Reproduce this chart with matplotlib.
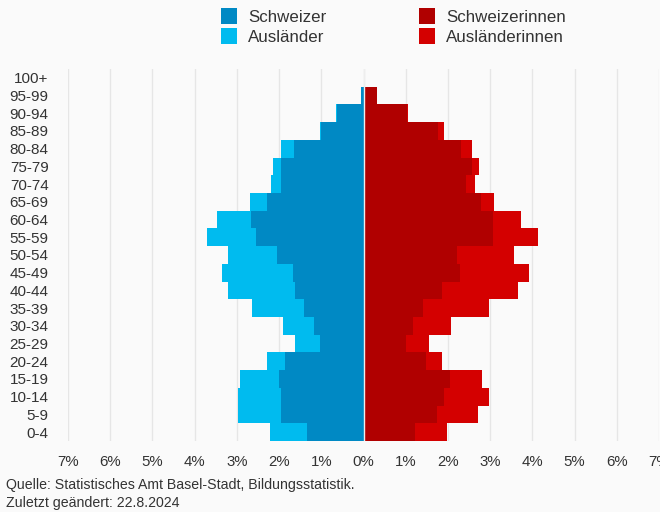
import matplotlib
matplotlib.use("Agg")
import matplotlib.pyplot as plt
from matplotlib.patches import Rectangle
from matplotlib.ticker import FixedLocator, FuncFormatter
import numpy as np

plt.rcParams['font.family'] = ['Liberation Sans', 'DejaVu Sans']

ages = ['0-4', '5-9', '10-14', '15-19', '20-24', '25-29', '30-34', '35-39', '40-44',
        '45-49', '50-54', '55-59', '60-64', '65-69', '70-74', '75-79', '80-84',
        '85-89', '90-94', '95-99', '100+']
schweizer = [1.34, 1.95, 1.95, 1.99, 1.86, 1.04, 1.18, 1.41, 1.62, 1.67, 2.05,
             2.55, 2.67, 2.29, 1.95, 1.95, 1.65, 1.00, 0.63, 0.06, 0.0]
auslaender = [0.87, 1.03, 1.03, 0.94, 0.43, 0.58, 0.73, 1.24, 1.60, 1.69, 1.17,
              1.15, 0.79, 0.40, 0.24, 0.20, 0.30, 0.04, 0.02, 0.01, 0.0]
schweizerinnen = [1.23, 1.74, 1.91, 2.04, 1.47, 1.01, 1.17, 1.41, 1.87, 2.28, 2.22,
                  3.06, 3.06, 2.78, 2.42, 2.56, 2.32, 1.77, 1.03, 0.32, 0.0]
auslaenderinnen = [0.75, 0.98, 1.07, 0.77, 0.40, 0.53, 0.90, 1.57, 1.78, 1.65, 1.35,
                   1.07, 0.67, 0.30, 0.22, 0.18, 0.26, 0.13, 0.02, 0.01, 0.0]
series_names = ['Schweizer', 'Ausländer', 'Schweizerinnen', 'Ausländerinnen']
x_ticks = [-7, -6, -5, -4, -3, -2, -1, 0, 1, 2, 3, 4, 5, 6, 7]

c_ch_m = '#0089C4'
c_au_m = '#00BBEF'
c_ch_f = '#B00000'
c_au_f = '#D40000'
txt = '#333333'
bg = '#FAFAFA'

W, H = 660, 512
fig = plt.figure(figsize=(W / 100, H / 100), dpi=100, facecolor=bg)
ax = fig.add_axes([68 / W, 1 - 441 / H, (659 - 68) / W, (441 - 69) / H], facecolor=bg)

y = np.arange(len(ages))
sm = np.array(schweizer)
am = np.array(auslaender)
sf = np.array(schweizerinnen)
af = np.array(auslaenderinnen)

ax.barh(y, -sm, height=1.0, color=c_ch_m, linewidth=0, zorder=2)
ax.barh(y, -am, left=-sm, height=1.0, color=c_au_m, linewidth=0, zorder=2)
ax.barh(y, sf, height=1.0, color=c_ch_f, linewidth=0, zorder=2)
ax.barh(y, af, left=sf, height=1.0, color=c_au_f, linewidth=0, zorder=2)
ax.axvline(0, color='#eeeeee', lw=1.0, zorder=3)

ax.set_xlim(-7, 7)
ax.set_ylim(-0.5, len(ages) - 0.5)
ax.xaxis.set_major_locator(FixedLocator(x_ticks))
ax.xaxis.set_major_formatter(FuncFormatter(lambda v, p: f"{abs(int(round(v)))}%"))
ax.set_yticks(y)
ax.set_yticklabels(ages)
ax.grid(axis='x', color='#e6e6e6', lw=1.0, zorder=0)
ax.axvline(-7, color='#ccd6eb', lw=1.2, zorder=1)
for s in ax.spines.values():
    s.set_visible(False)
ax.tick_params(axis='y', length=0, pad=14, labelsize=11, labelcolor=txt)
ax.tick_params(axis='x', length=0, pad=10, labelsize=10.8, labelcolor=txt)

# legend
colors = [c_ch_m, c_au_m, c_ch_f, c_au_f]
positions = [(221, 7.5), (221, 27.5), (419, 7.5), (419, 27.5)]
for name, col, (px, py) in zip(series_names, colors, positions):
    fig.patches.append(Rectangle((px / W, 1 - (py + 16.5) / H), 16 / W, 16.5 / H,
                                 transform=fig.transFigure, facecolor=col,
                                 edgecolor='none'))
    fig.text((px + 27) / W, 1 - (py + 10) / H, name, fontsize=12.2, color=txt,
             ha='left', va='center')

fig.text(6 / W, 1 - 485 / H, 'Quelle: Statistisches Amt Basel-Stadt, Bildungsstatistik.',
         fontsize=10.2, color=txt, ha='left', va='center')
fig.text(6 / W, 1 - 503 / H, 'Zuletzt geändert: 22.8.2024',
         fontsize=10.2, color=txt, ha='left', va='center')

fig.savefig('out.png', dpi=100, facecolor=bg)
